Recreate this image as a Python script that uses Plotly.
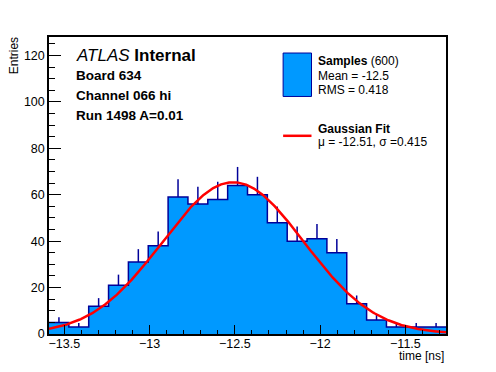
import numpy as np
import plotly.graph_objects as go

# ---- data ----
x_min, x_max = -13.59, -11.262
n_bins = 20
counts = [5, 3, 12, 21, 31, 38, 59, 56, 58, 64, 60, 48, 40, 41, 35, 13, 6, 3, 3, 3]
fit_mu = -12.51
fit_sigma = 0.415
fit_const = 65.4
y_max = 128
header_lines = ["<b>Board 634</b>", "<b>Channel 066 hi</b>", "<b>Run 1498 A=0.01</b>"]
legend_sample = ["<b>Samples</b> (600)", "Mean = -12.5", "RMS = 0.418"]
legend_fit = ["<b>Gaussian Fit</b>", "μ = -12.51, σ =0.415"]

OFF = 8  # page body margin
W, H = 496 - OFF, 372 - OFF
L = 49 - OFF
T = 37.3 - OFF
R = W - (446.3 - OFF)
B = H - (334 - OFF)

edges = np.linspace(x_min, x_max, n_bins + 1)
centers = 0.5 * (edges[:-1] + edges[1:])
bw = edges[1] - edges[0]
cnt = np.array(counts, dtype=float)

FILL = "rgb(0,153,255)"
EDGE = "rgb(0,0,153)"
FONT = "Liberation Sans, Arial, Helvetica, sans-serif"

fig = go.Figure()
fig.add_trace(go.Bar(x=centers, y=cnt, width=bw, marker=dict(color=FILL, line=dict(width=0)),
                     showlegend=False, hoverinfo="skip"))
# step outline
fig.add_trace(go.Scatter(x=list(edges), y=list(cnt) + [cnt[-1]], mode="lines",
                         line=dict(color=EDGE, width=1.5, shape="hv"), showlegend=False, hoverinfo="skip"))
# error bars (upper half visible)
fig.add_trace(go.Scatter(x=centers, y=cnt, mode="markers", marker=dict(size=0.1, color=EDGE, opacity=0),
                         error_y=dict(type="data", symmetric=False, array=np.sqrt(cnt), arrayminus=np.zeros_like(cnt),
                                      width=0, thickness=1.5, color=EDGE),
                         showlegend=False, hoverinfo="skip"))
# gaussian fit
xf = np.linspace(x_min, x_max, 400)
yf = fit_const * np.exp(-0.5 * ((xf - fit_mu) / fit_sigma) ** 2)
fig.add_trace(go.Scatter(x=xf, y=yf, mode="lines", line=dict(color="red", width=2.5),
                         showlegend=False, hoverinfo="skip"))

pw = W - L - R
ph = H - T - B
def px(x):  # page pixel -> paper fraction
    return (x - OFF - L) / pw
def py(y):
    return (H - B - (y - OFF)) / ph

ann = []
def add_text(text, x, y, size, xanchor="left", yanchor="middle", angle=0):
    ann.append(dict(text=text, x=px(x), y=py(y), xref="paper", yref="paper", showarrow=False,
                    xanchor=xanchor, yanchor=yanchor, textangle=angle,
                    font=dict(family=FONT, size=size, color="black")))

add_text("<i>ATLAS</i> <b>Internal</b>", 74, 56, 17)
for i, t in enumerate(header_lines):
    add_text(t, 74, 76 + 20 * i, 13.5)
for t, yy in zip(legend_sample, [61, 76, 90]):
    add_text(t, 316, yy, 12)
for t, yy in zip(legend_fit, [129, 142]):
    add_text(t, 316, yy, 12)
add_text("Entries", 13.5, 56, 12, xanchor="center", yanchor="middle", angle=-90)
add_text("time [ns]", 446, 355.5, 12, xanchor="right", yanchor="middle")

shapes = [
    dict(type="rect", xref="paper", yref="paper", x0=px(283.3), x1=px(311.7), y0=py(96.7), y1=py(53.3),
         fillcolor=FILL, line=dict(color=EDGE, width=1)),
    dict(type="line", xref="paper", yref="paper", x0=px(283.3), x1=px(311.7), y0=py(136), y1=py(136),
         line=dict(color="red", width=2.5)),
]

fig.update_layout(
    width=W, height=H, margin=dict(l=L, r=R, t=T, b=B),
    paper_bgcolor="white", plot_bgcolor="white",
    bargap=0, annotations=ann, shapes=shapes,
    font=dict(family=FONT, size=12, color="black"),
    xaxis=dict(range=[x_min, x_max], tick0=0, dtick=0.5, ticks="inside", ticklen=9, tickwidth=1,
               tickcolor="black", showline=True, linecolor="black", linewidth=1.5, mirror=True,
               showgrid=False, zeroline=False, tickfont=dict(size=12.5), ticklabelstandoff=-3,
               minor=dict(dtick=0.1, ticks="inside", ticklen=4.5, tickcolor="black", tickwidth=1, showgrid=False)),
    yaxis=dict(range=[0, y_max], tick0=0, dtick=20, ticks="inside", ticklen=12, tickwidth=1,
               tickcolor="black", showline=True, linecolor="black", linewidth=1.5, mirror=True,
               showgrid=False, zeroline=False, tickfont=dict(size=12.5),
               minor=dict(dtick=5, ticks="inside", ticklen=6, tickcolor="black", tickwidth=1, showgrid=False)),
)

fig.write_html("out.html")
